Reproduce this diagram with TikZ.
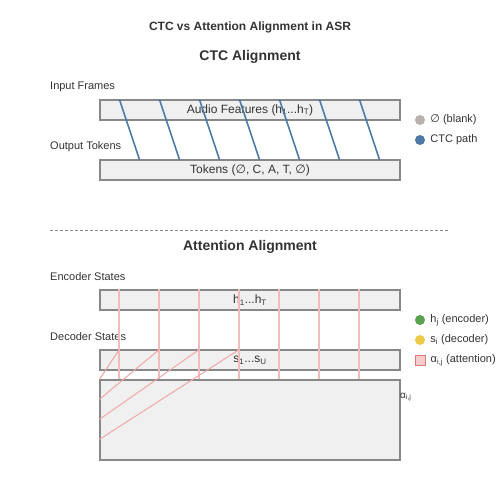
\documentclass[tikz,border=0pt]{standalone}
\usepackage{fontspec}
\setmainfont{Liberation Sans}
\newfontfamily\symfont{DejaVu Sans}
\usetikzlibrary{calc,positioning}
\definecolor{textgray}{HTML}{333333}
\definecolor{boxgray}{HTML}{F0F0F0}
\definecolor{edgegray}{HTML}{888888}
\definecolor{ctcblue}{HTML}{4E79A7}
\definecolor{blankgray}{HTML}{BAB0AC}
\definecolor{encgreen}{HTML}{59A14F}
\definecolor{decyellow}{HTML}{EDC948}
\definecolor{attnpink}{HTML}{EEA8A8}
\definecolor{stempink}{HTML}{F2BCBC}
\definecolor{attnred}{HTML}{E07A7A}
\tikzset{
  bar/.style={
    rectangle,
    draw=edgegray,
    fill=boxgray,
    line width=1.2pt,
    minimum width=300,
    minimum height=20,
    inner sep=0pt,
    text=textgray,
    font=\fontsize{12}{14}\selectfont
  },
  sidelabel/.style={
    anchor=west,
    inner sep=0pt,
    text=textgray,
    font=\fontsize{11}{13}\selectfont
  },
  legdot/.style={
    circle,
    minimum size=10,
    inner sep=0pt
  },
  legtext/.style={
    inner sep=0pt,
    text=textgray,
    font=\fontsize{11}{13}\selectfont
  },
  ctcpath/.style={
    draw=ctcblue,
    line width=1.6pt
  },
  attnline/.style={
    draw=attnpink,
    line width=1pt
  },
  attnstem/.style={
    draw=stempink,
    line width=1.9pt
  }
}

\begin{document}
\begin{tikzpicture}[x=1pt, y=-1pt]
\useasboundingbox (0,0) rectangle (500,500);

% --- titles ---
\node (title) [text=textgray, font=\bfseries\fontsize{12}{14}\selectfont] at (250,27) {CTC vs Attention Alignment in ASR};
\node (ctctitle) [text=textgray, font=\bfseries\fontsize{14}{16}\selectfont] at (250,56.5) {CTC Alignment};

% --- CTC part ---
\node (inlabel) [sidelabel] at (50,87) {Input Frames};
\node (audio) [bar] at (250,110) {Audio Features (h\textsubscript{1}...h\textsubscript{T})};
\node (outlabel) [sidelabel] at (50,147) {Output Tokens};
\node (tokens) [bar] at (250,170) {Tokens ({\symfont ∅}, C, A, T, {\symfont ∅})};

\foreach \i in {0,...,6}
  \draw[ctcpath] ($(audio.north west)+(20+40*\i,0)$) -- ($(tokens.north west)+(40+40*\i,0)$);

% --- CTC legend ---
\node (blankdot) [legdot, fill=blankgray] at (420,120) {};
\node (blanktext) [legtext, right=5pt of blankdot] {{\symfont ∅} (blank)};
\node (pathdot) [legdot, fill=ctcblue] at (420,140) {};
\node (pathtext) [legtext, right=5pt of pathdot] {CTC path};

% --- separator ---
\coordinate (sepl) at (50,230);
\coordinate (sepr) at (450,230);
\draw[edgegray, line width=1pt, dash pattern=on 3pt off 2pt] (sepl) -- (sepr);

% --- attention part ---
\node (attntitle) [text=textgray, font=\bfseries\fontsize{14}{16}\selectfont] at (250,246.5) {Attention Alignment};
\node (enclabel) [sidelabel] at (50,277) {Encoder States};
\node (encoder) [bar] at (250,300) {h\textsubscript{1}...h\textsubscript{T}};
\node (declabel) [sidelabel] at (50,337) {Decoder States};
\node (decoder) [bar] at (250,360) {s\textsubscript{1}...s\textsubscript{U}};
\node (attn) [bar, minimum height=80] at (250,420) {};
\node (alpha) [legtext, anchor=west, font=\fontsize{10}{12}\selectfont] at (400,397) {α\textsubscript{i,j}};

\foreach \i in {0,...,6}
  \path[attnstem] ($(encoder.north west)+(20+40*\i,0)$) edge ($(attn.north west)+(20+40*\i,0)$);
\foreach \i in {0,...,3}
  \draw[attnline] ($(attn.north west)+(0,20*\i)$) -- ($(decoder.north west)+(20+40*\i,0)$);

% --- attention legend ---
\node (encdot) [legdot, fill=encgreen] at (420,320) {};
\node (enctext) [legtext, right=5pt of encdot] {h\textsubscript{j} (encoder)};
\node (decdot) [legdot, fill=decyellow] at (420,340) {};
\node (dectext) [legtext, right=5pt of decdot] {s\textsubscript{i} (decoder)};
\node (attnsq) [rectangle, minimum size=10, inner sep=0pt, fill=attnpink!60, draw=attnred, line width=1pt] at (420,360) {};
\node (attntext) [legtext, right=5pt of attnsq] {α\textsubscript{i,j} (attention)};

\end{tikzpicture}
\end{document}
